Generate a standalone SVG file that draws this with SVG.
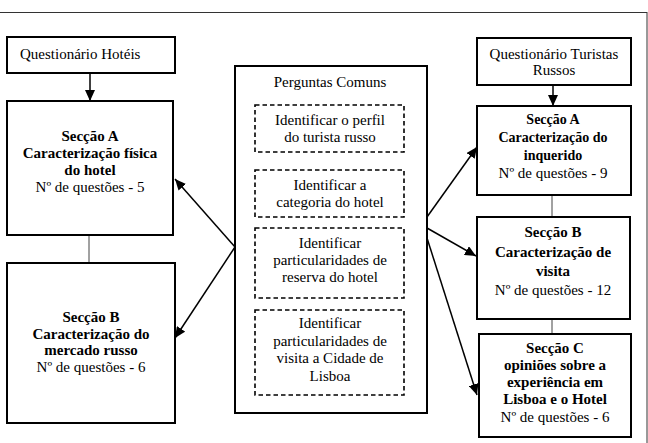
<svg xmlns="http://www.w3.org/2000/svg" width="648" height="443" viewBox="0 0 648 443">
<defs>
<marker id="ah" markerUnits="userSpaceOnUse" markerWidth="12" markerHeight="10" refX="11" refY="5" orient="auto">
<path d="M0,0 L11,5 L0,10 z" fill="#000"/>
</marker>
<style>
.box{fill:#fff;stroke:#000;stroke-width:2}
.dash{fill:#fff;stroke:#000;stroke-width:1.6;stroke-dasharray:4.5 3}
.t{font-size:15px;fill:#000}
.c{text-anchor:middle}
.b{font-weight:bold}
.arr{stroke:#000;stroke-width:1.5;fill:none;marker-end:url(#ah)}
.ln{stroke:#444;stroke-width:1;fill:none}
</style>
</defs>
<rect x="-2" y="12.5" width="649" height="440" fill="none" stroke="#333" stroke-width="1"/>

<g id="connectors">
<line class="arr" x1="90" y1="73" x2="90" y2="101"/>
<line class="arr" x1="553" y1="85" x2="553" y2="106"/>
<line class="ln" x1="89" y1="235" x2="89" y2="263"/>
<line class="ln" x1="552" y1="195" x2="552" y2="217"/>
<line class="ln" x1="552" y1="319" x2="552" y2="333"/>
<line class="arr" x1="235" y1="247" x2="175" y2="179"/>
<line class="arr" x1="235" y1="247" x2="175" y2="338"/>
<line class="arr" x1="427" y1="217" x2="477" y2="147"/>
<line class="arr" x1="427" y1="228" x2="476" y2="256"/>
<line class="arr" x1="427" y1="238" x2="477" y2="395"/>
</g>

<g font-family="Liberation Serif, DejaVu Serif, serif">
<g id="q-hoteis">
<rect class="box" x="7" y="37" width="168" height="36"/>
<text class="t" x="20" y="59">Questionário Hotéis</text>
</g>

<g id="hot-seccao-a">
<rect class="box" x="7" y="101" width="166" height="134"/>
<text class="t c" x="90" y="141"><tspan class="b">Secção A</tspan><tspan class="b" x="90" dy="17">Caracterização física</tspan><tspan class="b" x="90" dy="17">do hotel</tspan><tspan x="90" dy="17">Nº de questões - 5</tspan></text>
</g>

<g id="hot-seccao-b">
<rect class="box" x="7" y="263" width="168" height="160"/>
<text class="t c" x="91" y="322"><tspan class="b">Secção B</tspan><tspan class="b" x="91" dy="16.5">Caracterização do</tspan><tspan class="b" x="91" dy="16.5">mercado russo</tspan><tspan x="91" dy="16.5">Nº de questões - 6</tspan></text>
</g>

<g id="perguntas-comuns">
<rect class="box" x="235" y="66" width="192" height="347" stroke-width="2.4"/>
<text class="t c" x="330" y="87">Perguntas Comuns</text>
</g>

<g id="pc-perfil">
<rect class="dash" x="255" y="105" width="149" height="47"/>
<text class="t c" x="330" y="125">Identificar o perfil<tspan x="330" dy="17">do turista russo</tspan></text>
</g>

<g id="pc-categoria">
<rect class="dash" x="255" y="170" width="149" height="47"/>
<text class="t c" x="330" y="190">Identificar a<tspan x="330" dy="17">categoria do hotel</tspan></text>
</g>

<g id="pc-reserva">
<rect class="dash" x="255" y="228" width="149" height="70"/>
<text class="t c" x="330" y="248">Identificar<tspan x="330" dy="17">particularidades de</tspan><tspan x="330" dy="17">reserva do hotel</tspan></text>
</g>

<g id="pc-visita">
<rect class="dash" x="255" y="310" width="149" height="85"/>
<text class="t c" x="330" y="328">Identificar<tspan x="330" dy="17.5">particularidades de</tspan><tspan x="330" dy="17.5">visita a Cidade de</tspan><tspan x="330" dy="17.5">Lisboa</tspan></text>
</g>

<g id="q-turistas">
<rect class="box" x="477" y="38" width="154" height="47"/>
<text class="t c" x="554" y="59">Questionário Turistas<tspan x="554" dy="16">Russos</tspan></text>
</g>

<g id="tur-seccao-a">
<rect class="box" x="477" y="106" width="154" height="89"/>
<text class="t c" x="553" y="124"><tspan class="b" font-size="14">Secção A</tspan><tspan class="b" font-size="14" x="553" dy="18">Caracterização do</tspan><tspan class="b" font-size="14" x="553" dy="18">inquerido</tspan><tspan x="553" dy="18">Nº de questões - 9</tspan></text>
</g>

<g id="tur-seccao-b">
<rect class="box" x="477" y="217" width="153" height="102"/>
<text class="t c" x="553" y="237"><tspan class="b">Secção B</tspan><tspan class="b" x="553" dy="19.5">Caracterização de</tspan><tspan class="b" x="553" dy="19">visita</tspan><tspan x="553" dy="19.5">Nº de questões - 12</tspan></text>
</g>

<g id="tur-seccao-c">
<rect class="box" x="479" y="334" width="152" height="103"/>
<text class="t c" x="555" y="353"><tspan class="b">Secção C</tspan><tspan class="b" x="555" dy="17">opiniões sobre a</tspan><tspan class="b" x="555" dy="17">experiência em</tspan><tspan class="b" x="555" dy="17">Lisboa e o Hotel</tspan><tspan x="555" dy="17.5">Nº de questões - 6</tspan></text>
</g>
</g>
</svg>
